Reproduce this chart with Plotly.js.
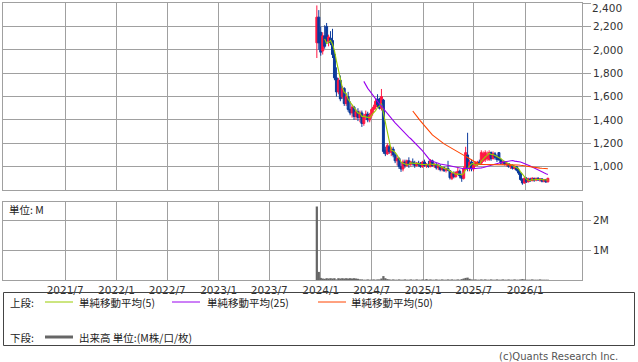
<!DOCTYPE html>
<html><head><meta charset="utf-8">
<script src="https://cdn.plot.ly/plotly-3.0.1.min.js"></script>
<style>html,body{margin:0;padding:0;background:#fff;}#chart{width:638px;height:362px;}</style>
</head><body><div id="chart"></div>
<script>
// ---- data (weekly bars) ----
const firstWeek = '2023-12-18';
const opens  = [2060,2280,2150,1990,2120,2200,2070,2100,2080,1960,1760,1640,1740,1600,1670,1540,1600,1490,1460,1510,1430,1470,1420,1460,1370,1430,1450,1400,1440,1490,1510,1580,1530,1500,1570,1140,1110,1170,1120,1150,1100,1050,1070,1000,980,1040,1010,1050,1020,1040,1030,1010,1030,1020,1000,1040,1010,1020,1000,1050,1010,1020,990,1005,975,990,970,985,965,900,940,915,950,960,920,900,980,1100,990,1040,980,1010,1015,1040,1030,1050,1060,1070,1060,1120,1070,1110,1080,1120,1060,1030,1040,1020,1025,1000,1010,985,1000,970,945,890,860,900,870,895,880,900,885,900,885,895,875,890,870];
const highs  = [2380,2340,2200,2150,2210,2230,2130,2160,2180,1980,1850,1760,1780,1690,1680,1620,1640,1560,1530,1520,1490,1500,1480,1480,1450,1480,1470,1460,1500,1530,1580,1620,1590,1665,1580,1170,1200,1190,1170,1170,1120,1090,1080,1040,1060,1060,1060,1080,1050,1070,1050,1040,1050,1040,1050,1060,1030,1050,1065,1060,1030,1030,1020,1020,1000,1000,990,1050,970,950,960,960,990,975,940,1000,1170,1290,1060,1060,1030,1045,1050,1060,1140,1130,1140,1130,1140,1130,1130,1125,1100,1125,1070,1045,1045,1035,1030,1015,1020,1010,1005,990,950,900,910,910,905,905,910,905,905,910,900,900,895,895,905];
const lows   = [1930,2000,1950,1960,2010,2050,2030,2040,1930,1740,1600,1620,1560,1580,1520,1520,1470,1440,1420,1400,1400,1390,1380,1340,1350,1400,1380,1380,1420,1460,1490,1510,1490,1480,1110,1090,1100,1110,1090,1080,1030,1010,980,955,960,990,1000,990,1000,1010,990,1000,1000,990,990,1000,990,990,995,1000,990,975,970,960,960,955,950,960,890,885,900,905,930,900,870,890,970,960,960,960,960,1000,1005,1020,1020,1040,1040,1050,1050,1050,1060,1060,1040,1050,1020,1015,1010,1000,990,980,975,975,960,930,880,845,855,860,865,870,875,870,875,880,870,865,865,860,865];
const closes = [2280,2060,1980,2120,2030,2080,2110,2060,1960,1760,1640,1740,1580,1670,1540,1600,1490,1460,1510,1430,1470,1420,1460,1370,1430,1450,1400,1440,1490,1510,1560,1530,1500,1600,1130,1110,1180,1130,1150,1100,1050,1070,1000,980,1040,1010,1050,1020,1040,1030,1010,1030,1020,1000,1040,1010,1020,1000,1050,1010,1020,990,1005,975,990,965,985,970,905,940,915,950,960,920,900,980,1120,990,1040,980,1010,1035,1040,1030,1120,1110,1120,1100,1120,1070,1110,1080,1060,1060,1030,1040,1020,1025,1000,1010,985,1000,970,945,890,860,900,870,895,880,900,885,900,885,895,875,890,870,900];
// volume in millions of shares
const volumes = [2.45,0.27,0.07,0.05,0.04,0.06,0.05,0.06,0.05,0.06,0.02,0.06,0.05,0.06,0.05,0.06,0.05,0.06,0.05,0.06,0.05,0.04,0.02,0.02,0.01,0.01,0.02,0.01,0.01,0.02,0.01,0.02,0.02,0.05,0.13,0.06,0.03,0.02,0.01,0.02,0.01,0.01,0.02,0.01,0.01,0.02,0.01,0.01,0.02,0.01,0.01,0.02,0.01,0.01,0.02,0.01,0.03,0.01,0.02,0.01,0.01,0.02,0.01,0.01,0.02,0.01,0.01,0.02,0.01,0.02,0.01,0.01,0.02,0.01,0.03,0.05,0.07,0.08,0.04,0.02,0.01,0.02,0.01,0.01,0.02,0.01,0.02,0.01,0.01,0.02,0.01,0.01,0.02,0.01,0.01,0.02,0.01,0.01,0.02,0.01,0.01,0.02,0.01,0.01,0.02,0.03,0.02,0.01,0.01,0.01,0.02,0.01,0.01,0.01,0.02,0.01,0.01,0.01,0.01];
const xTickDates  = ['2021-07-01','2022-01-01','2022-07-01','2023-01-01','2023-07-01','2024-01-01','2024-07-01','2025-01-01','2025-07-01','2026-01-01'];
const xTickLabels = ['2021/7','2022/1','2022/7','2023/1','2023/7','2024/1','2024/7','2025/1','2025/7','2026/1'];
const priceTicks  = [1000,1200,1400,1600,1800,2000,2200,2400];
const volTickVals = [1,2];
const volTickLabels = ['1M','2M'];
const maPeriods = [5,25,50];
const maNames = ['単純移動平均(5)','単純移動平均(25)','単純移動平均(50)'];
const maColors = ['#99cc00','#9900ee','#ff4400'];

// ---- derived ----
const DAY = 86400000;
const t0 = new Date(firstWeek + 'T00:00:00Z').getTime();
const dates = closes.map((_, i) => new Date(t0 + i * 7 * DAY).toISOString().slice(0,10));
function sma(arr, n){
  return arr.map((_, i) => {
    if (i < n - 1) return null;
    let s = 0; for (let k = i - n + 1; k <= i; k++) s += arr[k];
    return s / n;
  });
}
const fmt = v => v.toLocaleString('en-US');
const topTick = priceTicks[priceTicks.length - 1];
// the top label sits just inside the page, drawn as an annotation below
const priceTickText = priceTicks.map(v => v === topTick ? '' : fmt(v));

const W = 638, H = 362, ML = 3, MR = 56, MT = 3, MB = 82;
const PW = W - ML - MR, PH = H - MT - MB;
const px = x => (x - ML) / PW;
const py = y => (H - MB - y) / PH;

const grid = '#a0a0a0';
const tickFont = {family:'DejaVu Sans', size:10.5, color:'#333'};
const jpFont = {family:'Noto Sans CJK JP', size:10.5, color:'#222'};

const traces = [{
  type:'candlestick', x:dates, open:opens, high:highs, low:lows, close:closes,
  xaxis:'x', yaxis:'y', hoverinfo:'skip', whiskerwidth:0,
  increasing:{line:{color:'#ff1744', width:1}, fillcolor:'#ff1744'},
  decreasing:{line:{color:'#0b3a9c', width:1}, fillcolor:'#0b3a9c'},
  showlegend:false
}];
maPeriods.forEach((n, k) => traces.push({
  type:'scatter', mode:'lines', x:dates, y:sma(closes, n), name:maNames[k],
  xaxis:'x', yaxis:'y', line:{color:maColors[k], width:1.1}, hoverinfo:'skip', showlegend:false
}));
traces.push({
  type:'bar', x:dates, y:volumes, xaxis:'x2', yaxis:'y2', width:8*DAY,
  marker:{color:'#666666', line:{width:0}}, hoverinfo:'skip', showlegend:false
});

const xRange = ['2020-11-21','2026-07-23'];
const xCommon = {type:'date', range:xRange, tickvals:xTickDates, ticktext:xTickLabels,
  showgrid:true, gridcolor:grid, gridwidth:1, showline:true, mirror:true, linecolor:grid, linewidth:1,
  ticks:'', zeroline:false, fixedrange:true, rangeslider:{visible:false}};

const shapes = [
  {type:'rect', xref:'paper', yref:'paper', x0:px(3.5), x1:px(634.5), y0:py(292.5), y1:py(345.5), line:{color:'#444', width:1}},
  {type:'line', xref:'paper', yref:'paper', x0:px(45), x1:px(73), y0:py(302), y1:py(302), line:{color:maColors[0], width:1}},
  {type:'line', xref:'paper', yref:'paper', x0:px(172), x1:px(200), y0:py(302), y1:py(302), line:{color:maColors[1], width:1}},
  {type:'line', xref:'paper', yref:'paper', x0:px(318), x1:px(346), y0:py(302), y1:py(302), line:{color:maColors[2], width:1}},
  {type:'line', xref:'paper', yref:'paper', x0:px(45), x1:px(73), y0:py(337), y1:py(337), line:{color:'#666', width:3}}
];
function ann(text, x, y, anchor, font){
  return {text, xref:'paper', yref:'paper', x:px(x), y:py(y), xanchor:anchor||'left', yanchor:'middle', showarrow:false, font:font||jpFont};
}
const annotations = [
  ann('上段:', 8, 302), ann(maNames[0], 77, 302), ann(maNames[1], 205, 302), ann(maNames[2], 349, 302),
  ann('下段:', 8, 337), ann('出来高 単位:(M株/口/枚)', 77, 337),
  ann('単位: M', 7, 209),
  ann(fmt(topTick), 590, 8, 'left', tickFont),
  ann('(c)Quants Research Inc.', 620, 356, 'right', {family:'DejaVu Sans', size:10, color:'#555'})
];

const layout = {
  width:W, height:H, margin:{l:ML, r:MR, t:MT, b:MB, pad:0},
  paper_bgcolor:'#fff', plot_bgcolor:'#fff', showlegend:false,
  boxgap:0, boxgroupgap:0,
  xaxis:Object.assign({}, xCommon, {anchor:'y', showticklabels:false}),
  xaxis2:Object.assign({}, xCommon, {anchor:'y2', matches:'x', showticklabels:true, tickfont:tickFont}),
  yaxis:{domain:[py(190), 1], range:[800,2401], side:'right', tickvals:priceTicks, ticktext:priceTickText,
    showgrid:true, gridcolor:grid, showline:true, mirror:true, linecolor:grid, ticks:'outside', ticklen:8, tickcolor:grid,
    tickfont:tickFont, zeroline:false, fixedrange:true},
  yaxis2:{domain:[0, py(202)], range:[0,2.6], side:'right', tickvals:volTickVals, ticktext:volTickLabels,
    showgrid:true, gridcolor:grid, showline:true, mirror:true, linecolor:grid, ticks:'outside', ticklen:8, tickcolor:grid,
    tickfont:tickFont, zeroline:false, fixedrange:true},
  shapes, annotations
};
Plotly.newPlot('chart', traces, layout, {staticPlot:true, displayModeBar:false});
</script></body></html>
